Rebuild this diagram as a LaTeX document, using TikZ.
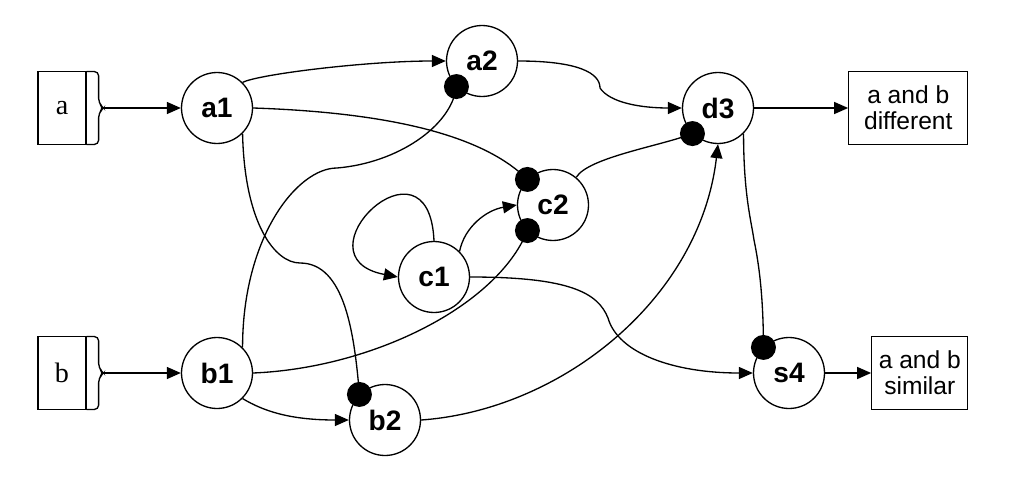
\documentclass[tikz,border=0pt]{standalone}
\usepackage{fontspec}
\setmainfont{Liberation Sans}
\newfontfamily\inputfont{Liberation Serif}
\usetikzlibrary{arrows.meta}
\usetikzlibrary{positioning}
\tikzset{
    cell/.style={circle, draw, inner sep=0pt, minimum size=1.42cm, font=\bfseries\fontsize{16}{18}\selectfont},
    inbox/.style={rectangle, draw, inner sep=0pt, minimum width=0.96cm, minimum height=1.46cm, font=\inputfont\fontsize{16}{18}\selectfont},
    outbox/.style={rectangle, draw, inner sep=0pt, minimum height=1.46cm, align=center, font=\fontsize{14}{15}\selectfont},
    inhib/.style={circle, fill=black, inner sep=0pt, minimum size=0.5cm},
    brace/.pic={
        % Bracket on the right of an input
        \draw[rounded corners=2.5pt] (0,-36.5) -- (12,-36.5) -- (12,-5) -- (17,0) -- (12,5) -- (12,36.5) -- (0,36.5);
        \coordinate (-tip) at (17,0);
    },
}
\begin{document}
\begin{tikzpicture}[x=0.02cm, y=-0.02cm, line width=0.75pt, >={Triangle[length=0.28cm, width=0.24cm]}]
            \useasboundingbox (0,0) rectangle (1011,477);

            % Inputs
            \node[inbox] (abox) at (62,108) {a};
            \node[inbox] (bbox) at (62,373) {b};
            \pic (abrace) at (abox.east) {brace};
            \pic (bbrace) at (bbox.east) {brace};

            % Cells
            \node[cell] (a1) at (217,108) {a1};
            \node[cell] (b1) at (217,373) {b1};
            \node[cell] (a2) at (482,61) {a2};
            \node[cell] (b2) at (385,420) {b2};
            \node[cell] (c1) at (434,277) {c1};
            \node[cell] (c2) at (553,205) {c2};
            \node[cell] (d3) at (718,108) {d3};
            \node[cell] (s4) at (789,373) {s4};

            % Outputs
            \node[outbox, minimum width=2.38cm, right=1.88cm of d3] (diff) {a and b\\different};
            \node[outbox, minimum width=1.92cm, right=0.92cm of s4] (sim) {a and b\\similar};

            % Relationships
            \draw[->] (abrace-tip) -- (a1);
            \draw[->] (bbrace-tip) -- (b1);
            \draw[->] (a1.45) .. controls +(15,-8) and +(-80,0) .. (a2.west);
            \draw (a1.east) .. controls +(150,5) and +(-40,-40) .. (c2.135);
            \draw (a1.-45) .. controls +(2,90) and +(-25,0) .. (300,263) .. controls +(45,0) and +(-5,-60) .. (b2.135);
            \draw (b1.45) .. controls +(0,-110) and +(-40,0) .. (337,168) .. controls +(60,-5) and +(-5,40) .. (a2.225);
            \draw[->] (b1.-45) .. controls +(20,12) and +(-60,0) .. (b2.west);
            \draw (b1.east) .. controls +(120,-5) and +(-30,75) .. (c2.225);
            \draw[->] (b2.east) .. controls +(140,-10) and +(-18,155) .. (d3.south);
            \draw[->] (c1.north) .. controls +(-5,-115) and +(-105,-20) .. (c1.west);
            \draw[->] (c1.45) .. controls +(5,-25) and +(-30,5) .. (c2.west);
            \draw[->] (c1.east) .. controls +(100,0) and +(-10,-25) .. (608,318) .. controls +(10,35) and +(-80,0) .. (s4.west);
            \draw (c2.50) .. controls +(12,-20) and +(-30,12) .. (d3.225);
            \draw[->] (a2.east) .. controls +(60,0) and +(0,-15) .. (600,88) .. controls +(10,15) and +(-40,0) .. (d3.west);
            \draw[->] (d3) -- (diff);
            \draw (d3.-45) .. controls +(0,60) and +(-3,-20) .. (754,240) .. controls +(3,15) and +(0,-60) .. (s4.135);
            \draw[->] (s4) -- (sim);

            % Inhibitory ends
            \node[inhib] (a2dot) at (a2.225) {};
            \node[inhib] (b2dot) at (b2.135) {};
            \node[inhib] (c2dota) at (c2.135) {};
            \node[inhib] (c2dotb) at (c2.225) {};
            \node[inhib] (d3dot) at (d3.225) {};
            \node[inhib] (s4dot) at (s4.135) {};

        \end{tikzpicture}
\end{document}
